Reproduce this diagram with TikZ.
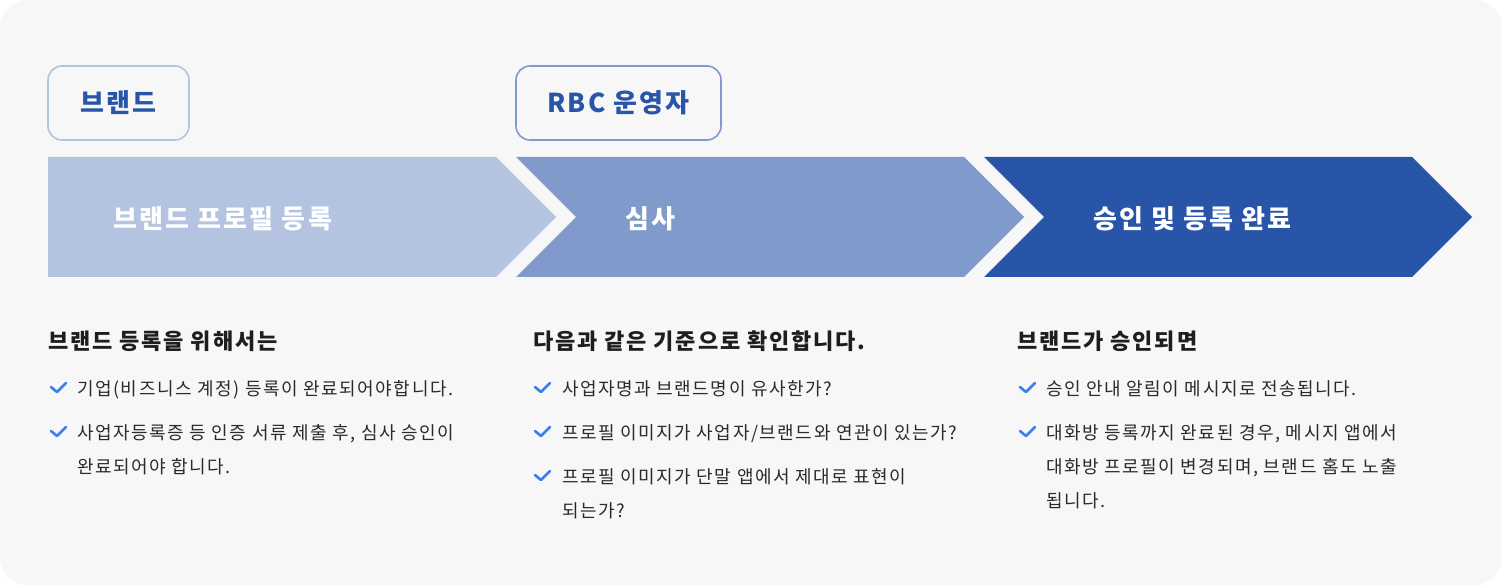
\documentclass[tikz,border=0pt]{standalone}
\usepackage{fontspec}
\setmainfont{Noto Sans CJK KR}[LetterSpace=8.5]
\definecolor{bgc}{HTML}{F7F7F7}
\definecolor{cone}{HTML}{B3C3E0}
\definecolor{ctwo}{HTML}{7F9ACB}
\definecolor{cthree}{HTML}{2855A8}
\definecolor{tagblue}{HTML}{2855A8}
\definecolor{chkc}{HTML}{3B7FEF}
\definecolor{headc}{HTML}{1E1E1E}
\definecolor{bodyc}{HTML}{2A2A2A}
\tikzset{
  arrowtxt/.style={anchor=base west, inner sep=0pt, text=white, font=\fontsize{26pt}{30pt}\selectfont\bfseries},
  tagbox/.style={draw, line width=1.6pt, rounded corners=14pt, minimum height=74pt, inner sep=0pt, text=tagblue, font=\fontsize{26pt}{30pt}\selectfont\bfseries},
  head/.style={anchor=base west, inner sep=0pt, text=headc, font=\fontsize{22pt}{26pt}\selectfont\bfseries},
  body/.style={anchor=base west, inner sep=0pt, text=bodyc, font=\fontsize{18pt}{22pt}\selectfont},
  chkline/.style={draw=chkc, line width=2.6pt, line cap=round, line join=round},
  chk/.pic={\draw[chkline] (0,0) -- (6,5) -- (15,-4);}
}
\begin{document}
\begin{tikzpicture}[x=1pt,y=-1pt]
\useasboundingbox (0,0) rectangle (1502,585);
\fill[white] (0,0) rectangle (1502,585);
\fill[bgc, rounded corners=28pt] (0,0) rectangle (1502,585);

% tags
\node[tagbox, draw=cone, minimum width=141pt] (tag1) at (118.5,103) {브랜드};
\node[tagbox, draw=ctwo, minimum width=205pt] (tag2) at (618.5,103) {RBC 운영자};

% arrows
\fill[cone] (48,157) -- (496,157) -- (556,217) -- (496,277) -- (48,277) -- cycle;
\fill[ctwo] (516,157) -- (964,157) -- (1024,217) -- (964,277) -- (516,277) -- (576,217) -- cycle;
\fill[cthree] (984,157) -- (1412,157) -- (1472,217) -- (1412,277) -- (984,277) -- (1044,217) -- cycle;
\node[arrowtxt] (s1) at (113,229) {브랜드 프로필 등록};
\node[arrowtxt] (s2) at (625,229) {심사};
\node[arrowtxt] (s3) at (1093,229) {승인 및 등록 완료};

% headings
\node[head] (h1) at (48,349) {브랜드 등록을 위해서는};
\node[head] (h2) at (533,349) {다음과 같은 기준으로 확인합니다.};
\node[head] (h3) at (1017,349) {브랜드가 승인되면};

% column 1
\pic at (51,387) {chk};
\node[body] (a1) at (77,395) {기업(비즈니스 계정) 등록이 완료되어야합니다.};
\pic at (51,431) {chk};
\node[body] (a2) at (77,439) {사업자등록증 등 인증 서류 제출 후, 심사 승인이};
\node[body] (a3) at (77,473) {완료되어야 합니다.};

% column 2
\pic at (535,387) {chk};
\node[body] (b1) at (562,395) {사업자명과 브랜드명이 유사한가?};
\pic at (535,431) {chk};
\node[body] (b2) at (562,439) {프로필 이미지가 사업자/브랜드와 연관이 있는가?};
\pic at (535,475) {chk};
\node[body] (b3) at (562,483) {프로필 이미지가 단말 앱에서 제대로 표현이};
\node[body] (b4) at (562,517) {되는가?};

% column 3
\pic at (1020,387) {chk};
\node[body] (c1) at (1046,395) {승인 안내 알림이 메시지로 전송됩니다.};
\pic at (1020,431) {chk};
\node[body] (c2) at (1046,439) {대화방 등록까지 완료된 경우, 메시지 앱에서};
\node[body] (c3) at (1046,473) {대화방 프로필이 변경되며, 브랜드 홈도 노출};
\node[body] (c4) at (1046,507) {됩니다.};
\end{tikzpicture}
\end{document}
